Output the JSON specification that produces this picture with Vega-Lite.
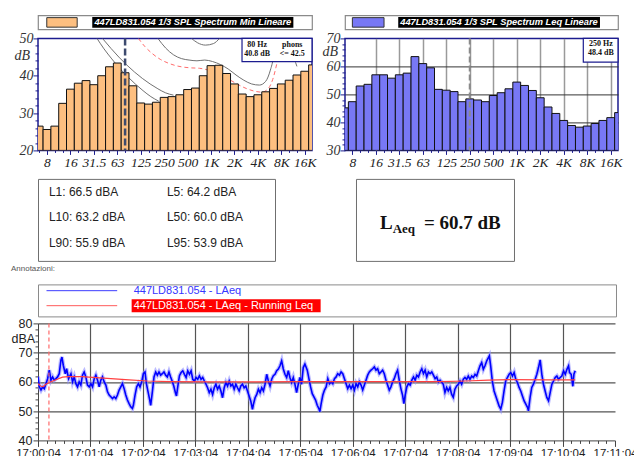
{
  "$schema": "https://vega.github.io/schema/vega-lite/v6.json",
  "background": "white",
  "padding": {"left": 9, "top": 14.4, "right": 0, "bottom": 0},
  "config": {"view": {"stroke": null}, "font": "Liberation Sans", "axis": {"minExtent": 0}},
  "datasets": {
    "spec_min": [{"band":"6.3","db":26.5},{"band":"8","db":25.6},{"band":"10","db":26.5},{"band":"12.5","db":32.6},{"band":"16","db":36.4},{"band":"20","db":38.0},{"band":"25","db":38.7},{"band":"31.5","db":37.6},{"band":"40","db":40.0},{"band":"50","db":42.4},{"band":"63","db":43.4},{"band":"80","db":40.8},{"band":"100","db":37.3},{"band":"125","db":32.7},{"band":"160","db":32.4},{"band":"200","db":32.9},{"band":"250","db":34.2},{"band":"315","db":34.4},{"band":"400","db":34.9},{"band":"500","db":36.3},{"band":"630","db":36.7},{"band":"800","db":40.0},{"band":"1K","db":42.7},{"band":"1.25K","db":42.8},{"band":"1.6K","db":40.6},{"band":"2K","db":37.8},{"band":"2.5K","db":35.1},{"band":"3.15K","db":34.4},{"band":"4K","db":34.9},{"band":"5K","db":35.7},{"band":"6.3K","db":36.6},{"band":"8K","db":37.8},{"band":"10K","db":38.8},{"band":"12.5K","db":40.2},{"band":"16K","db":41.2},{"band":"20K","db":42.9}],
    "spec_leq": [{"band":"6.3","db":45.2},{"band":"8","db":47.4},{"band":"10","db":53.0},{"band":"12.5","db":53.6},{"band":"16","db":57.0},{"band":"20","db":57.0},{"band":"25","db":55.8},{"band":"31.5","db":57.0},{"band":"40","db":57.6},{"band":"50","db":63.5},{"band":"63","db":61.0},{"band":"80","db":59.5},{"band":"100","db":51.8},{"band":"125","db":51.5},{"band":"160","db":51.0},{"band":"200","db":47.4},{"band":"250","db":48.4},{"band":"315","db":48.0},{"band":"400","db":47.4},{"band":"500","db":49.6},{"band":"630","db":50.6},{"band":"800","db":52.0},{"band":"1K","db":54.4},{"band":"1.25K","db":53.2},{"band":"1.6K","db":51.4},{"band":"2K","db":48.8},{"band":"2.5K","db":45.5},{"band":"3.15K","db":43.2},{"band":"4K","db":40.7},{"band":"5K","db":38.9},{"band":"6.3K","db":38.3},{"band":"8K","db":38.7},{"band":"10K","db":39.6},{"band":"12.5K","db":40.7},{"band":"16K","db":41.7},{"band":"20K","db":43.5}],
    "contours": [
      {"curve":"g1","band_pos":8.4,"db":50},{"curve":"g1","band_pos":9.3,"db":47.2},{"curve":"g1","band_pos":10.3,"db":44.5},{"curve":"g1","band_pos":11.3,"db":42},{"curve":"g1","band_pos":12.3,"db":39.8},{"curve":"g1","band_pos":13.3,"db":37.8},{"curve":"g1","band_pos":14.3,"db":36},{"curve":"g1","band_pos":15.3,"db":34.4},{"curve":"g1","band_pos":16.3,"db":33.2},
      {"curve":"g2","band_pos":9.1,"db":50},{"curve":"g2","band_pos":10.2,"db":47.3},{"curve":"g2","band_pos":11.2,"db":45},{"curve":"g2","band_pos":12.2,"db":42.9},{"curve":"g2","band_pos":13.2,"db":41},{"curve":"g2","band_pos":14.2,"db":39.3},{"curve":"g2","band_pos":15.2,"db":37.8},{"curve":"g2","band_pos":16.2,"db":36.5},{"curve":"g2","band_pos":17.2,"db":35.4},{"curve":"g2","band_pos":18.2,"db":34.8},
      {"curve":"g3","band_pos":16.2,"db":50},{"curve":"g3","band_pos":17.2,"db":47.4},{"curve":"g3","band_pos":18.2,"db":45.6},{"curve":"g3","band_pos":19.2,"db":44.6},{"curve":"g3","band_pos":20.2,"db":44.2},{"curve":"g3","band_pos":21.2,"db":44.0},{"curve":"g3","band_pos":22.2,"db":44.2},{"curve":"g3","band_pos":23.2,"db":43.8},{"curve":"g3","band_pos":24.2,"db":43.0},{"curve":"g3","band_pos":25.2,"db":41.8},{"curve":"g3","band_pos":26.2,"db":40.2},{"curve":"g3","band_pos":27.2,"db":38.8},{"curve":"g3","band_pos":28.2,"db":37.8},{"curve":"g3","band_pos":29.2,"db":37.5},{"curve":"g3","band_pos":30.0,"db":38.5},{"curve":"g3","band_pos":30.6,"db":41.5},{"curve":"g3","band_pos":31.0,"db":45},{"curve":"g3","band_pos":31.3,"db":50},
      {"curve":"g4","band_pos":20.5,"db":50},{"curve":"g4","band_pos":21.3,"db":48.8},{"curve":"g4","band_pos":22.3,"db":48.2},{"curve":"g4","band_pos":23.3,"db":48.6},{"curve":"g4","band_pos":24.1,"db":50},
      {"curve":"g5","band_pos":32.5,"db":50},{"curve":"g5","band_pos":33.3,"db":46.5},{"curve":"g5","band_pos":34.0,"db":42.5},
      {"curve":"r1","band_pos":13.7,"db":50},{"curve":"r1","band_pos":14.5,"db":47.9},{"curve":"r1","band_pos":15.5,"db":45.9},{"curve":"r1","band_pos":16.5,"db":44.4},{"curve":"r1","band_pos":17.5,"db":43.4},{"curve":"r1","band_pos":18.5,"db":42.7},{"curve":"r1","band_pos":19.5,"db":42.3},{"curve":"r1","band_pos":20.5,"db":42.1},{"curve":"r1","band_pos":21.5,"db":42.0},{"curve":"r1","band_pos":22.5,"db":41.6},{"curve":"r1","band_pos":23.5,"db":41.0},{"curve":"r1","band_pos":24.5,"db":40.0},{"curve":"r1","band_pos":25.5,"db":38.8},{"curve":"r1","band_pos":26.5,"db":37.6},{"curve":"r1","band_pos":27.5,"db":36.6},{"curve":"r1","band_pos":28.5,"db":35.9},{"curve":"r1","band_pos":29.5,"db":35.6},{"curve":"r1","band_pos":30.3,"db":36.5},{"curve":"r1","band_pos":30.9,"db":39},{"curve":"r1","band_pos":31.4,"db":43},{"curve":"r1","band_pos":31.8,"db":47},{"curve":"r1","band_pos":32.1,"db":50}
    ],
    "laeq": [
      {"sec":0,"laeq":61.8},{"sec":1.5,"laeq":58.3},{"sec":3.4,"laeq":57.2},{"sec":5.3,"laeq":58.3},{"sec":7.2,"laeq":57.7},{"sec":9.1,"laeq":59.4},{"sec":11.0,"laeq":61.1},{"sec":12.9,"laeq":64.0},{"sec":14.8,"laeq":60.6},{"sec":16.7,"laeq":61.7},{"sec":18.6,"laeq":60.6},{"sec":20.5,"laeq":61.1},{"sec":22.4,"laeq":61.7},{"sec":24.3,"laeq":62.8},{"sec":26.2,"laeq":67.4},{"sec":27.4,"laeq":68.5},{"sec":28.9,"laeq":65.7},{"sec":31.2,"laeq":62.8},{"sec":32.7,"laeq":64.5},{"sec":35.0,"laeq":61.1},{"sec":37.7,"laeq":62.8},{"sec":39.5,"laeq":60.0},{"sec":41.4,"laeq":61.7},{"sec":43.3,"laeq":59.4},{"sec":45.2,"laeq":58.3},{"sec":47.1,"laeq":60.0},{"sec":49.0,"laeq":58.9},{"sec":50.9,"laeq":62.3},{"sec":52.8,"laeq":63.4},{"sec":54.7,"laeq":61.7},{"sec":56.6,"laeq":58.9},{"sec":58.6,"laeq":58.3},{"sec":60.5,"laeq":59.4},{"sec":62.4,"laeq":58.3},{"sec":64.3,"laeq":61.1},{"sec":66.2,"laeq":62.3},{"sec":68.1,"laeq":60.6},{"sec":70.0,"laeq":58.3},{"sec":71.9,"laeq":60.6},{"sec":73.8,"laeq":61.7},{"sec":75.7,"laeq":60.0},{"sec":77.6,"laeq":58.9},{"sec":79.5,"laeq":56.6},{"sec":81.4,"laeq":55.5},{"sec":83.3,"laeq":54.9},{"sec":85.2,"laeq":54.3},{"sec":87.1,"laeq":54.9},{"sec":89.0,"laeq":54.3},{"sec":90.9,"laeq":55.5},{"sec":92.8,"laeq":57.2},{"sec":94.7,"laeq":58.3},{"sec":96.6,"laeq":59.4},{"sec":98.5,"laeq":57.7},{"sec":100.4,"laeq":55.5},{"sec":102.3,"laeq":53.8},{"sec":104.2,"laeq":52.6},{"sec":106.1,"laeq":51.5},{"sec":108.0,"laeq":50.9},{"sec":109.1,"laeq":52.0},{"sec":111.0,"laeq":55.5},{"sec":112.9,"laeq":58.3},{"sec":114.8,"laeq":59.4},{"sec":116.7,"laeq":58.3},{"sec":118.6,"laeq":60.0},{"sec":120.5,"laeq":62.8},{"sec":122.4,"laeq":63.4},{"sec":124.0,"laeq":59.4},{"sec":125.9,"laeq":56.6},{"sec":127.8,"laeq":53.8},{"sec":128.9,"laeq":52.0},{"sec":130.8,"laeq":56.6},{"sec":132.7,"laeq":61.7},{"sec":134.6,"laeq":63.4},{"sec":136.5,"laeq":62.3},{"sec":138.4,"laeq":63.4},{"sec":140.3,"laeq":62.3},{"sec":142.2,"laeq":62.8},{"sec":144.1,"laeq":63.4},{"sec":146.0,"laeq":62.3},{"sec":147.9,"laeq":61.7},{"sec":149.8,"laeq":63.4},{"sec":151.7,"laeq":61.7},
      {"sec":153.4,"laeq":60.3},{"sec":155.3,"laeq":58.6},{"sec":157.2,"laeq":56.3},{"sec":158.4,"laeq":55.2},{"sec":160.3,"laeq":59.2},{"sec":161.8,"laeq":62.1},{"sec":163.7,"laeq":63.2},{"sec":165.6,"laeq":63.8},{"sec":167.5,"laeq":62.6},{"sec":169.4,"laeq":61.5},{"sec":171.3,"laeq":63.8},{"sec":173.2,"laeq":62.6},{"sec":175.1,"laeq":63.8},{"sec":177.0,"laeq":60.9},{"sec":178.9,"laeq":60.3},{"sec":180.8,"laeq":61.5},{"sec":182.7,"laeq":60.9},{"sec":184.6,"laeq":62.1},{"sec":186.5,"laeq":60.9},{"sec":188.4,"laeq":61.5},{"sec":190.3,"laeq":60.3},{"sec":192.2,"laeq":59.2},{"sec":194.0,"laeq":58.0},{"sec":195.9,"laeq":56.3},{"sec":197.8,"laeq":57.5},{"sec":199.7,"laeq":55.7},{"sec":201.6,"laeq":58.0},{"sec":203.5,"laeq":59.2},{"sec":205.4,"laeq":57.5},{"sec":207.3,"laeq":58.6},{"sec":209.2,"laeq":56.9},{"sec":211.1,"laeq":54.6},{"sec":213.0,"laeq":58.0},{"sec":214.9,"laeq":59.8},{"sec":216.8,"laeq":58.6},{"sec":218.7,"laeq":60.3},{"sec":220.6,"laeq":58.6},{"sec":222.5,"laeq":59.2},{"sec":224.4,"laeq":57.5},{"sec":226.3,"laeq":59.2},{"sec":228.2,"laeq":58.0},{"sec":230.1,"laeq":56.9},{"sec":232.0,"laeq":58.6},{"sec":233.9,"laeq":59.2},{"sec":235.8,"laeq":58.0},{"sec":237.7,"laeq":58.6},{"sec":239.6,"laeq":56.9},{"sec":241.5,"laeq":55.2},{"sec":243.4,"laeq":53.4},{"sec":245.3,"laeq":50.6},{"sec":246.4,"laeq":52.3},{"sec":248.3,"laeq":54.6},{"sec":250.2,"laeq":55.7},{"sec":252.1,"laeq":57.5},{"sec":254.0,"laeq":56.3},{"sec":255.9,"laeq":58.0},{"sec":257.8,"laeq":56.9},{"sec":259.7,"laeq":59.2},{"sec":261.6,"laeq":62.6},{"sec":263.5,"laeq":60.3},{"sec":265.4,"laeq":58.6},{"sec":267.3,"laeq":60.9},{"sec":269.2,"laeq":62.1},{"sec":271.1,"laeq":62.6},{"sec":273.0,"laeq":63.8},{"sec":274.9,"laeq":64.4},{"sec":276.8,"laeq":65.5},{"sec":278.7,"laeq":67.2},{"sec":280.6,"laeq":64.4},{"sec":282.5,"laeq":62.6},{"sec":284.4,"laeq":61.5},{"sec":286.3,"laeq":63.8},{"sec":288.2,"laeq":61.5},{"sec":290.1,"laeq":59.8},{"sec":292.0,"laeq":61.5},{"sec":293.9,"laeq":59.2},{"sec":295.8,"laeq":56.3},{"sec":297.7,"laeq":59.2},{"sec":299.6,"laeq":61.5},{"sec":301.5,"laeq":59.2},{"sec":303.4,"laeq":64.9},{"sec":305.3,"laeq":66.1},
      {"sec":308.0,"laeq":64.0},{"sec":309.9,"laeq":61.1},{"sec":311.8,"laeq":58.3},{"sec":313.7,"laeq":56.0},{"sec":315.6,"laeq":54.9},{"sec":317.5,"laeq":53.8},{"sec":319.4,"laeq":52.0},{"sec":321.3,"laeq":50.9},{"sec":322.4,"laeq":49.8},{"sec":323.9,"laeq":52.6},{"sec":325.8,"laeq":55.5},{"sec":327.7,"laeq":57.2},{"sec":329.6,"laeq":58.3},{"sec":331.5,"laeq":61.1},{"sec":333.4,"laeq":59.4},{"sec":335.3,"laeq":60.0},{"sec":337.2,"laeq":59.4},{"sec":339.1,"laeq":61.1},{"sec":341.0,"laeq":61.7},{"sec":342.8,"laeq":62.8},{"sec":344.8,"laeq":62.3},{"sec":346.7,"laeq":63.4},{"sec":348.6,"laeq":62.8},{"sec":350.5,"laeq":61.1},{"sec":352.4,"laeq":59.4},{"sec":354.3,"laeq":57.7},{"sec":356.2,"laeq":58.9},{"sec":358.1,"laeq":57.7},{"sec":360.0,"laeq":58.9},{"sec":361.9,"laeq":57.2},{"sec":363.8,"laeq":59.4},{"sec":365.7,"laeq":58.3},{"sec":367.6,"laeq":60.0},{"sec":369.5,"laeq":58.9},{"sec":371.4,"laeq":57.2},{"sec":373.3,"laeq":58.9},{"sec":375.2,"laeq":60.6},{"sec":377.1,"laeq":62.3},{"sec":379.0,"laeq":63.4},{"sec":380.9,"laeq":64.0},{"sec":382.8,"laeq":64.5},{"sec":384.7,"laeq":65.1},{"sec":386.6,"laeq":64.0},{"sec":388.5,"laeq":64.5},{"sec":390.4,"laeq":62.8},{"sec":392.3,"laeq":63.4},{"sec":394.2,"laeq":64.0},{"sec":396.1,"laeq":62.8},{"sec":398.0,"laeq":60.6},{"sec":399.9,"laeq":58.9},{"sec":401.8,"laeq":57.2},{"sec":403.7,"laeq":58.3},{"sec":405.6,"laeq":60.0},{"sec":407.5,"laeq":61.1},{"sec":409.4,"laeq":62.8},{"sec":411.3,"laeq":64.0},{"sec":413.2,"laeq":60.6},{"sec":415.1,"laeq":57.7},{"sec":417.0,"laeq":55.5},{"sec":418.5,"laeq":52.6},{"sec":420.0,"laeq":55.5},{"sec":421.9,"laeq":58.3},{"sec":423.8,"laeq":59.4},{"sec":425.7,"laeq":58.9},{"sec":427.6,"laeq":60.6},{"sec":429.5,"laeq":61.7},{"sec":431.4,"laeq":60.6},{"sec":433.3,"laeq":62.3},{"sec":435.2,"laeq":61.7},{"sec":437.1,"laeq":63.4},{"sec":439.0,"laeq":64.5},{"sec":440.9,"laeq":62.8},{"sec":442.8,"laeq":64.0},{"sec":444.7,"laeq":61.7},{"sec":446.6,"laeq":63.4},{"sec":448.5,"laeq":62.8},{"sec":450.4,"laeq":63.4},{"sec":452.3,"laeq":62.3},{"sec":454.2,"laeq":61.1},{"sec":456.1,"laeq":61.7},{"sec":458.0,"laeq":60.0},{"sec":459.9,"laeq":60.6},
      {"sec":463.6,"laeq":59.2},{"sec":465.5,"laeq":56.4},{"sec":467.4,"laeq":58.1},{"sec":469.3,"laeq":56.9},{"sec":471.2,"laeq":58.1},{"sec":473.1,"laeq":55.8},{"sec":475.0,"laeq":54.7},{"sec":476.9,"laeq":57.5},{"sec":478.9,"laeq":58.6},{"sec":480.8,"laeq":59.2},{"sec":482.7,"laeq":60.3},{"sec":484.6,"laeq":59.2},{"sec":486.5,"laeq":60.9},{"sec":488.4,"laeq":61.5},{"sec":490.3,"laeq":60.9},{"sec":492.2,"laeq":62.0},{"sec":494.1,"laeq":60.9},{"sec":496.1,"laeq":62.0},{"sec":498.0,"laeq":61.5},{"sec":499.9,"laeq":62.6},{"sec":501.8,"laeq":62.0},{"sec":503.7,"laeq":63.8},{"sec":505.6,"laeq":65.5},{"sec":507.5,"laeq":66.6},{"sec":509.4,"laeq":64.3},{"sec":511.3,"laeq":65.5},{"sec":513.3,"laeq":67.2},{"sec":515.2,"laeq":68.3},{"sec":516.3,"laeq":68.9},{"sec":517.8,"laeq":65.5},{"sec":519.7,"laeq":60.3},{"sec":521.7,"laeq":56.9},{"sec":523.6,"laeq":55.2},{"sec":525.5,"laeq":53.5},{"sec":527.4,"laeq":51.8},{"sec":529.3,"laeq":50.7},{"sec":531.2,"laeq":53.0},{"sec":533.1,"laeq":56.9},{"sec":535.0,"laeq":60.3},{"sec":536.9,"laeq":61.5},{"sec":538.9,"laeq":62.6},{"sec":540.8,"laeq":63.2},{"sec":542.7,"laeq":62.0},{"sec":544.6,"laeq":63.2},{"sec":546.5,"laeq":60.9},{"sec":548.4,"laeq":59.8},{"sec":550.3,"laeq":58.1},{"sec":552.2,"laeq":56.9},{"sec":554.1,"laeq":55.2},{"sec":556.1,"laeq":53.5},{"sec":558.0,"laeq":52.4},{"sec":559.9,"laeq":51.3},{"sec":561.0,"laeq":50.1},{"sec":562.9,"laeq":54.7},{"sec":564.8,"laeq":58.1},{"sec":566.7,"laeq":59.2},{"sec":568.7,"laeq":60.9},{"sec":570.6,"laeq":62.6},{"sec":572.5,"laeq":64.9},{"sec":574.4,"laeq":67.5},{"sec":576.3,"laeq":62.6},{"sec":578.2,"laeq":59.2},{"sec":580.1,"laeq":56.9},{"sec":582.0,"laeq":54.7},{"sec":584.0,"laeq":53.5},{"sec":585.9,"laeq":56.4},{"sec":587.8,"laeq":59.2},{"sec":589.7,"laeq":60.3},{"sec":591.6,"laeq":61.5},{"sec":593.5,"laeq":62.0},{"sec":595.4,"laeq":60.9},{"sec":597.3,"laeq":61.5},{"sec":599.2,"laeq":62.0},{"sec":601.2,"laeq":63.8},{"sec":603.1,"laeq":62.6},{"sec":605.0,"laeq":64.3},{"sec":606.9,"laeq":65.5},{"sec":608.0,"laeq":63.2},{"sec":609.9,"laeq":62.6},{"sec":611.8,"laeq":58.5},{"sec":613.0,"laeq":62.6},{"sec":614.5,"laeq":63.8}
    ],
    "running": [{"sec":0,"leq":59.4},{"sec":3.4,"leq":58.5},{"sec":6,"leq":58.4},{"sec":9,"leq":59.2},{"sec":13,"leq":59.8},{"sec":17,"leq":60.3},{"sec":22,"leq":60.9},{"sec":28,"leq":61.6},{"sec":35,"leq":61.8},{"sec":50,"leq":61.8},{"sec":75,"leq":61.3},{"sec":100,"leq":60.8},{"sec":125,"leq":60.3},{"sec":150,"leq":60.1},{"sec":200,"leq":60.0},{"sec":250,"leq":60.0},{"sec":300,"leq":60.1},{"sec":400,"leq":60.1},{"sec":460,"leq":60.1},{"sec":490,"leq":60.3},{"sec":515,"leq":60.6},{"sec":540,"leq":60.8},{"sec":580,"leq":60.7},{"sec":614.5,"leq":60.7}]
  },
  "spacing": 7.5,
  "vconcat": [
    {
      "spacing": 0,
      "vconcat": [
        {
          "bounds": "flush",
          "spacing": 33,
          "hconcat": [
            {
              "width": 274, "height": 14,
              "view": {"stroke": "#8a8a8a", "strokeWidth": 1.2, "fill": "white"},
              "data": {"values": [{"series": "447LD831.054 1/3 SPL Spectrum Min Lineare"}]},
              "resolve": {"axis": {"x": "independent", "y": "independent"}},
              "layer": [
                {"mark": {"type": "rect", "fill": "#FDBF80", "stroke": "#333333", "strokeWidth": 1},
                 "encoding": {"x": {"datum": 0.032, "type": "quantitative", "scale": {"domain": [0, 1], "nice": false}, "axis": null}, "x2": {"datum": 0.143}, "y": {"datum": 0.16, "type": "quantitative", "scale": {"domain": [0, 1], "nice": false}, "axis": {"orient": "left", "title": "dB", "titleColor": "white", "labels": false, "ticks": false, "domain": false, "grid": false, "titleAngle": 0, "titleAlign": "left", "titleBaseline": "middle", "titleX": -24, "titleY": 7, "titleFontSize": 8}}, "y2": {"datum": 0.84}}},
                {"mark": {"type": "rect", "fill": "#000000"},
                 "encoding": {"x": {"datum": 0.198, "type": "quantitative", "axis": null}, "x2": {"datum": 0.932}, "y": {"datum": 0.12, "type": "quantitative", "axis": null}, "y2": {"datum": 0.88}}},
                {"mark": {"type": "text", "color": "white", "font": "Liberation Sans", "fontStyle": "italic", "fontWeight": "bold", "fontSize": 9.3, "align": "center", "baseline": "middle"},
                 "encoding": {"x": {"datum": 0.565, "type": "quantitative", "axis": null}, "y": {"datum": 0.5, "type": "quantitative", "axis": null}, "text": {"field": "series"}}}
              ]
            },
            {
              "width": 273, "height": 14,
              "view": {"stroke": "#8a8a8a", "strokeWidth": 1.2, "fill": "white"},
              "data": {"values": [{"series": "447LD831.054 1/3 SPL Spectrum Leq Lineare"}]},
              "layer": [
                {"mark": {"type": "rect", "fill": "#7878F5", "stroke": "#333333", "strokeWidth": 1},
                 "encoding": {"x": {"datum": 0.027, "type": "quantitative", "scale": {"domain": [0, 1], "nice": false}, "axis": null}, "x2": {"datum": 0.143}, "y": {"datum": 0.16, "type": "quantitative", "scale": {"domain": [0, 1], "nice": false}, "axis": null}, "y2": {"datum": 0.84}}},
                {"mark": {"type": "rect", "fill": "#000000"},
                 "encoding": {"x": {"datum": 0.195, "type": "quantitative", "axis": null}, "x2": {"datum": 0.934}, "y": {"datum": 0.12, "type": "quantitative", "axis": null}, "y2": {"datum": 0.88}}},
                {"mark": {"type": "text", "color": "white", "font": "Liberation Sans", "fontStyle": "italic", "fontWeight": "bold", "fontSize": 9.3, "align": "center", "baseline": "middle"},
                 "encoding": {"x": {"datum": 0.564, "type": "quantitative", "axis": null}, "y": {"datum": 0.5, "type": "quantitative", "axis": null}, "text": {"field": "series"}}}
              ]
            }
          ]
        },
        {
          "bounds": "flush",
          "spacing": 33,
          "hconcat": [
            {
              "width": 274, "height": 112,
              "view": {"stroke": "#1c1c8f", "strokeWidth": 1.5, "fill": "white"},
              "resolve": {"axis": {"x": "independent", "y": "independent"}},
              "layer": [
                {"data": {"name": "spec_min"},
                 "transform": [{"window": [{"op": "row_number", "as": "i"}]}, {"calculate": "datum.i - 0.5", "as": "lo"}, {"calculate": "datum.i + 0.5", "as": "hi"}],
                 "mark": {"type": "rect", "opacity": 0},
                 "encoding": {
                   "x": {"field": "lo", "type": "quantitative", "scale": {"domain": [0.85, 35.93], "nice": false, "zero": false}, "axis": {"orient": "bottom", "values": [1,2,3,4,5,6,7,8,9,10,11,12,13,14,15,16,17,18,19,20,21,22,23,24,25,26,27,28,29,30,31,32,33,34,35], "labelExpr": "(datum.value + 1) % 3 == 0 ? ['8','16','31.5','63','125','250','500','1K','2K','4K','8K','16K'][(datum.value - 2) / 3] : ''", "title": null, "domain": false, "grid": false, "tickSize": {"condition": {"test": "(datum.value + 1) % 3 == 0", "value": 4}, "value": 2}, "tickColor": "#1c1c8f", "labelFont": "Liberation Serif", "labelFontStyle": "italic", "labelFontSize": 13.5, "labelColor": "#222222", "labelPadding": 1, "labelOverlap": false, "labelFlush": false}},
                   "x2": {"field": "hi"},
                   "y": {"field": "db", "type": "quantitative", "scale": {"domain": [20, 50], "nice": false, "zero": false}, "axis": {"orient": "left", "values": [20,22,24,26,28,30,32,34,36,38,40,42,44,46,48,50], "labelExpr": "datum.value % 10 == 0 ? datum.label : ''", "title": "dB", "titleAngle": 0, "titleAlign": "left", "titleBaseline": "middle", "titleX": -24, "titleY": 17, "titleFont": "Liberation Serif", "titleFontStyle": "italic", "titleFontWeight": "normal", "titleFontSize": 14, "titleColor": "#333333", "domain": false, "grid": false, "tickColor": "#1c1c8f", "tickSize": {"condition": {"test": "datum.value % 10 == 0", "value": 5}, "value": 3}, "labelFont": "Liberation Serif", "labelFontStyle": "italic", "labelFontSize": 14, "labelColor": "#333333", "labelPadding": 0, "labelOverlap": false, "labelFlush": false}},
                   "y2": {"datum": 20}
                 }},
                {"data": {"name": "contours"}, "transform": [{"filter": "datum.curve != 'r1'"}],
                 "mark": {"type": "line", "color": "#707070", "strokeWidth": 1, "clip": true, "interpolate": "monotone"},
                 "encoding": {"x": {"field": "band_pos", "type": "quantitative", "axis": null}, "y": {"field": "db", "type": "quantitative", "axis": null}, "detail": {"field": "curve"}}},
                {"data": {"name": "contours"}, "transform": [{"filter": "datum.curve == 'r1'"}],
                 "mark": {"type": "line", "color": "#ff6b6b", "strokeWidth": 1, "strokeDash": [4, 3], "clip": true, "interpolate": "monotone"},
                 "encoding": {"x": {"field": "band_pos", "type": "quantitative", "axis": null}, "y": {"field": "db", "type": "quantitative", "axis": null}}},
                {"data": {"name": "spec_min"},
                 "transform": [{"window": [{"op": "row_number", "as": "i"}]}, {"calculate": "datum.i - 0.5", "as": "lo"}, {"calculate": "datum.i + 0.5", "as": "hi"}],
                 "mark": {"type": "rect", "fill": "#FDBF80", "stroke": "#111111", "strokeWidth": 1, "clip": true},
                 "encoding": {"x": {"field": "lo", "type": "quantitative", "axis": null}, "x2": {"field": "hi"}, "y": {"field": "db", "type": "quantitative", "axis": null}, "y2": {"datum": 20}}},
                {"data": {"values": [{}]}, "mark": {"type": "rule", "color": "#3c4a6e", "strokeWidth": 2.5, "strokeDash": [7, 3]},
                 "encoding": {"x": {"datum": 12, "type": "quantitative", "axis": null}}},
                {"data": {"values": [{}]}, "mark": {"type": "rect", "fill": "white", "stroke": "#1c1c8f", "strokeWidth": 1.2},
                 "encoding": {"x": {"datum": 26.97, "type": "quantitative", "axis": null}, "x2": {"datum": 35.93}, "y": {"datum": 43.8, "type": "quantitative", "axis": null}, "y2": {"datum": 50}}},
                {"data": {"values": [{}]}, "mark": {"type": "text", "font": "Liberation Serif", "fontWeight": "bold", "fontSize": 8, "align": "center", "baseline": "top", "lineHeight": 9, "color": "#111111"},
                 "encoding": {"x": {"datum": 28.9, "type": "quantitative", "axis": null}, "y": {"datum": 49.4, "type": "quantitative", "axis": null}, "text": {"value": ["80 Hz", "40.8 dB"]}}},
                {"data": {"values": [{}]}, "mark": {"type": "text", "font": "Liberation Serif", "fontWeight": "bold", "fontSize": 8, "align": "center", "baseline": "top", "lineHeight": 9, "color": "#111111"},
                 "encoding": {"x": {"datum": 33.4, "type": "quantitative", "axis": null}, "y": {"datum": 49.4, "type": "quantitative", "axis": null}, "text": {"value": ["phons", "<= 42.5"]}}}
              ]
            },
            {
              "width": 273, "height": 112,
              "view": {"stroke": "#1c1c8f", "strokeWidth": 1.5, "fill": "white"},
              "resolve": {"axis": {"x": "independent", "y": "independent"}},
              "layer": [
                {"data": {"name": "spec_leq"},
                 "transform": [{"window": [{"op": "row_number", "as": "i"}]}, {"calculate": "datum.i - 0.5", "as": "lo"}, {"calculate": "datum.i + 0.5", "as": "hi"}],
                 "mark": {"type": "rect", "fill": "#7878F5", "stroke": "#111111", "strokeWidth": 1, "clip": true},
                 "encoding": {
                   "x": {"field": "lo", "type": "quantitative", "scale": {"domain": [1.07, 35.93], "nice": false, "zero": false}, "axis": {"orient": "bottom", "values": [2,3,4,5,6,7,8,9,10,11,12,13,14,15,16,17,18,19,20,21,22,23,24,25,26,27,28,29,30,31,32,33,34,35], "labelExpr": "(datum.value + 1) % 3 == 0 ? ['8','16','31.5','63','125','250','500','1K','2K','4K','8K','16K'][(datum.value - 2) / 3] : ''", "title": null, "domain": false, "grid": true, "gridColor": "#9a9a9a", "gridWidth": 1.5, "gridOpacity": {"condition": {"test": "(datum.value + 1) % 3 == 0 && datum.value > 2", "value": 1}, "value": 0}, "tickSize": {"condition": {"test": "(datum.value + 1) % 3 == 0", "value": 4}, "value": 2}, "tickColor": "#1c1c8f", "labelFont": "Liberation Serif", "labelFontStyle": "italic", "labelFontSize": 13.5, "labelColor": "#222222", "labelPadding": 1, "labelOverlap": false, "labelFlush": false}},
                   "x2": {"field": "hi"},
                   "y": {"field": "db", "type": "quantitative", "scale": {"domain": [30, 70], "nice": false, "zero": false}, "axis": {"orient": "left", "values": [30,32,34,36,38,40,42,44,46,48,50,52,54,56,58,60,62,64,66,68,70], "labelExpr": "datum.value % 10 == 0 ? datum.label : ''", "title": "dB", "titleAngle": 0, "titleAlign": "left", "titleBaseline": "middle", "titleX": -23, "titleY": 13.5, "titleFont": "Liberation Serif", "titleFontStyle": "italic", "titleFontWeight": "normal", "titleFontSize": 14, "titleColor": "#333333", "domain": false, "grid": true, "gridColor": "#333333", "gridWidth": 1, "gridOpacity": {"condition": {"test": "datum.value % 10 == 0 && datum.value > 30 && datum.value < 70", "value": 1}, "value": 0}, "tickColor": "#1c1c8f", "tickSize": {"condition": {"test": "datum.value % 10 == 0", "value": 5}, "value": 3}, "labelFont": "Liberation Serif", "labelFontStyle": "italic", "labelFontSize": 14, "labelColor": "#333333", "labelPadding": 0, "labelOverlap": false, "labelFlush": false}},
                   "y2": {"datum": 30}
                 }},
                {"data": {"values": [{}]}, "mark": {"type": "rule", "color": "#8a8a8a", "strokeWidth": 2, "strokeDash": [6, 3]},
                 "encoding": {"x": {"datum": 17, "type": "quantitative", "axis": null}}},
                {"data": {"values": [{}]}, "mark": {"type": "rect", "fill": "white", "stroke": "#1c1c8f", "strokeWidth": 1.2},
                 "encoding": {"x": {"datum": 31.5, "type": "quantitative", "axis": null}, "x2": {"datum": 35.93}, "y": {"datum": 61.5, "type": "quantitative", "axis": null}, "y2": {"datum": 70}}},
                {"data": {"values": [{}]}, "mark": {"type": "text", "font": "Liberation Serif", "fontWeight": "bold", "fontSize": 8, "align": "center", "baseline": "top", "lineHeight": 9, "color": "#111111"},
                 "encoding": {"x": {"datum": 33.75, "type": "quantitative", "axis": null}, "y": {"datum": 69.3, "type": "quantitative", "axis": null}, "text": {"value": ["250 Hz", "48.4 dB"]}}}
              ]
            }
          ]
        }
      ]
    },
    {
      "spacing": 2.5,
      "vconcat": [
        {
          "bounds": "flush",
          "spacing": 81,
          "hconcat": [
            {
              "width": 237, "height": 82,
              "view": {"stroke": "#6e6e6e", "strokeWidth": 1, "fill": "white"},
              "data": {"values": [{"left": "L1", "left_db": 66.5, "right": "L5", "right_db": 64.2}, {"left": "L10", "left_db": 63.2, "right": "L50", "right_db": 60.0}, {"left": "L90", "left_db": 55.9, "right": "L95", "right_db": 53.9}]},
              "transform": [{"calculate": "datum.left + ': ' + format(datum.left_db, '.1f') + ' dBA'", "as": "ltxt"}, {"calculate": "datum.right + ': ' + format(datum.right_db, '.1f') + ' dBA'", "as": "rtxt"}],
              "resolve": {"axis": {"x": "independent", "y": "independent"}},
              "layer": [
                {"mark": {"type": "text", "align": "left", "baseline": "middle", "fontSize": 12, "font": "Liberation Sans", "color": "#222222"},
                 "encoding": {"x": {"datum": 0.046, "type": "quantitative", "scale": {"domain": [0, 1], "nice": false}, "axis": null}, "y": {"field": "left", "type": "nominal", "sort": null, "scale": {"type": "point", "padding": 0.608, "align": 0.42}, "axis": {"orient": "left", "title": "dB", "titleColor": "white", "labels": false, "ticks": false, "domain": false, "grid": false, "titleAngle": 0, "titleAlign": "left", "titleBaseline": "middle", "titleX": -28, "titleY": 30, "titleFontSize": 8}}, "text": {"field": "ltxt"}}},
                {"mark": {"type": "text", "align": "left", "baseline": "middle", "fontSize": 12, "font": "Liberation Sans", "color": "#222222"},
                 "encoding": {"x": {"datum": 0.544, "type": "quantitative", "axis": null}, "y": {"field": "left", "type": "nominal", "sort": null, "axis": null}, "text": {"field": "rtxt"}}}
              ]
            },
            {
              "width": 158, "height": 82,
              "view": {"stroke": "#6e6e6e", "strokeWidth": 1, "fill": "white"},
              "data": {"values": [{}]},
              "layer": [
                {"mark": {"type": "text", "align": "left", "baseline": "alphabetic", "fontSize": 19, "fontWeight": "bold", "font": "Liberation Serif", "color": "#111111"},
                 "encoding": {"x": {"datum": 0.152, "type": "quantitative", "scale": {"domain": [0, 1], "nice": false}, "axis": null}, "y": {"datum": 0.39, "type": "quantitative", "scale": {"domain": [0, 1], "nice": false}, "axis": null}, "text": {"value": "L"}}},
                {"mark": {"type": "text", "align": "left", "baseline": "alphabetic", "fontSize": 13, "fontWeight": "bold", "font": "Liberation Serif", "color": "#111111"},
                 "encoding": {"x": {"datum": 0.232, "type": "quantitative", "axis": null}, "y": {"datum": 0.335, "type": "quantitative", "axis": null}, "text": {"value": "Aeq"}}},
                {"mark": {"type": "text", "align": "left", "baseline": "alphabetic", "fontSize": 19, "fontWeight": "bold", "font": "Liberation Serif", "color": "#111111"},
                 "encoding": {"x": {"datum": 0.43, "type": "quantitative", "axis": null}, "y": {"datum": 0.39, "type": "quantitative", "axis": null}, "text": {"value": "= 60.7 dB"}}}
              ]
            }
          ]
        },
        {
          "spacing": 0,
          "vconcat": [
            {
              "width": 578, "height": 32,
              "title": {"text": "Annotazioni:", "anchor": "start", "fontSize": 8, "font": "Liberation Sans", "fontWeight": "normal", "color": "#555555", "baseline": "bottom", "offset": 3.5},
              "view": {"stroke": "#8a8a8a", "strokeWidth": 1, "fill": "white"},
              "data": {"values": [{"series": "447LD831.054 - LAeq"}, {"series": "447LD831.054 - LAeq - Running Leq"}]},
              "resolve": {"axis": {"x": "independent", "y": "independent"}},
              "layer": [
                {"transform": [{"filter": "datum.series == '447LD831.054 - LAeq'"}],
                 "mark": {"type": "rule", "strokeWidth": 1, "color": "#3a3aff"},
                 "encoding": {"x": {"datum": 0.0147, "type": "quantitative", "scale": {"domain": [0, 1], "nice": false}, "axis": null}, "x2": {"datum": 0.137}, "y": {"field": "series", "type": "nominal", "sort": null, "scale": {"type": "point", "padding": 0.567, "align": 0.37, "domain": ["447LD831.054 - LAeq", "447LD831.054 - LAeq - Running Leq"]}, "axis": {"orient": "left", "title": "dB", "titleColor": "white", "labels": false, "ticks": false, "domain": false, "grid": false, "titleAngle": 0, "titleAlign": "left", "titleBaseline": "middle", "titleX": -27, "titleY": 16, "titleFontSize": 8}}}},
                {"transform": [{"filter": "datum.series == '447LD831.054 - LAeq - Running Leq'"}],
                 "mark": {"type": "rule", "strokeWidth": 1, "color": "#ff5a5a"},
                 "encoding": {"x": {"datum": 0.0147, "type": "quantitative", "axis": null}, "x2": {"datum": 0.137}, "y": {"field": "series", "type": "nominal", "sort": null, "axis": null}}},
                {"transform": [{"filter": "datum.series == '447LD831.054 - LAeq - Running Leq'"}],
                 "mark": {"type": "rect", "fill": "#ff0000", "height": 13},
                 "encoding": {"x": {"datum": 0.162, "type": "quantitative", "axis": null}, "x2": {"datum": 0.489}, "y": {"field": "series", "type": "nominal", "sort": null, "axis": null}}},
                {"mark": {"type": "text", "align": "left", "baseline": "middle", "fontSize": 11, "font": "Liberation Sans"},
                 "encoding": {"x": {"datum": 0.1655, "type": "quantitative", "axis": null}, "y": {"field": "series", "type": "nominal", "sort": null, "axis": null}, "text": {"field": "series"}, "color": {"condition": {"test": "datum.series == '447LD831.054 - LAeq'", "value": "#3535ff"}, "value": "#ffffff"}}}
              ]
            },
            {
              "width": 577, "height": 117,
              "resolve": {"axis": {"x": "independent", "y": "independent"}},
              "layer": [
                {"data": {"name": "laeq"},
                 "mark": {"type": "line", "color": "#8f8fff", "strokeWidth": 4, "opacity": 0.6, "clip": true},
                 "encoding": {
                   "x": {"field": "sec", "type": "quantitative", "scale": {"domain": [0, 660], "nice": false, "zero": false}, "axis": {"orient": "bottom", "values": [0,10,20,30,40,50,60,70,80,90,100,110,120,130,140,150,160,170,180,190,200,210,220,230,240,250,260,270,280,290,300,310,320,330,340,350,360,370,380,390,400,410,420,430,440,450,460,470,480,490,500,510,520,530,540,550,560,570,580,590,600,610,620,630,640,650,660], "labelExpr": "datum.value % 60 == 0 ? '17:' + (datum.value < 600 ? '0' : '') + (datum.value / 60) + ':04' : ''", "title": null, "domainColor": "#444444", "tickColor": "#444444", "tickSize": {"condition": {"test": "datum.value % 60 == 0", "value": 6}, "value": 3}, "grid": true, "gridColor": "#555555", "gridWidth": 1.2, "gridOpacity": {"condition": {"test": "datum.value % 60 == 0 && datum.value > 0 && datum.value < 660", "value": 1}, "value": 0}, "labelFont": "Liberation Sans", "labelFontSize": 11.5, "labelColor": "#222222", "labelPadding": 1, "labelOverlap": false, "labelFlush": false}},
                   "y": {"field": "laeq", "type": "quantitative", "scale": {"domain": [40, 80], "nice": false, "zero": false}, "axis": {"orient": "left", "values": [40,42,44,46,48,50,52,54,56,58,60,62,64,66,68,70,72,74,76,78,80], "labelExpr": "datum.value % 10 == 0 ? datum.label : ''", "title": "dBA", "titleAngle": 0, "titleAlign": "left", "titleBaseline": "middle", "titleX": -27, "titleY": 15, "titleFont": "Liberation Sans", "titleFontSize": 12.5, "titleFontWeight": "normal", "titleColor": "#222222", "domainColor": "#444444", "tickColor": "#444444", "tickSize": {"condition": {"test": "datum.value % 10 == 0", "value": 5}, "value": 3}, "grid": true, "gridColor": "#555555", "gridWidth": 1.2, "gridOpacity": {"condition": {"test": "datum.value % 10 == 0 && datum.value > 40", "value": 1}, "value": 0}, "labelFont": "Liberation Sans", "labelFontSize": 12.5, "labelColor": "#222222", "labelPadding": 1, "labelOverlap": false, "labelFlush": false}}
                 }},
                {"data": {"name": "laeq"},
                 "mark": {"type": "line", "color": "#0000ff", "strokeWidth": 1.6, "clip": true},
                 "encoding": {"x": {"field": "sec", "type": "quantitative", "axis": null}, "y": {"field": "laeq", "type": "quantitative", "axis": null}}},
                {"data": {"name": "running"},
                 "mark": {"type": "line", "color": "#ff4040", "strokeWidth": 1.2, "clip": true},
                 "encoding": {"x": {"field": "sec", "type": "quantitative", "axis": null}, "y": {"field": "leq", "type": "quantitative", "axis": null}}},
                {"data": {"values": [{}]},
                 "mark": {"type": "rule", "color": "#ff6a6a", "strokeWidth": 1.2, "strokeDash": [4, 3]},
                 "encoding": {"x": {"datum": 12.5, "type": "quantitative", "axis": null}}}
              ]
            }
          ]
        }
      ]
    }
  ]
}
